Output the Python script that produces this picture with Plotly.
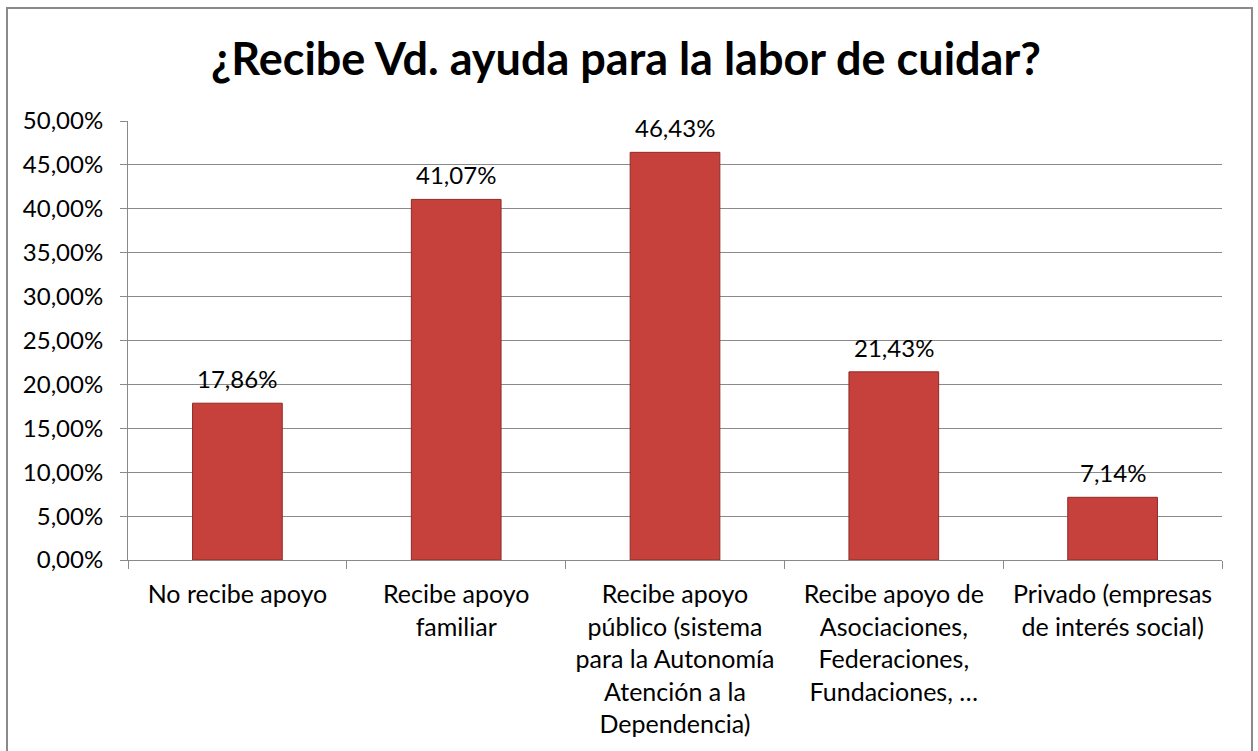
import plotly.graph_objects as go

# Survey answers: help received for caregiving
categories = [
    "No recibe apoyo",
    "Recibe apoyo<br>familiar",
    "Recibe apoyo<br>público (sistema<br>para la Autonomía<br>Atención a la<br>Dependencia)",
    "Recibe apoyo de<br>Asociaciones,<br>Federaciones,<br>Fundaciones, …",
    "Privado (empresas<br>de interés social)",
]
shares = [0.1786, 0.4107, 0.4643, 0.2143, 0.0714]
y_ticks = [0.0, 0.05, 0.10, 0.15, 0.20, 0.25, 0.30, 0.35, 0.40, 0.45, 0.50]

FONT = "Lato"
GRID = "#8a8a8a"

fig = go.Figure()
fig.add_trace(go.Bar(
    x=categories,
    y=shares,
    marker=dict(color="#c6403c", line=dict(color="#8e2a27", width=1)),
    width=0.41,
    hoverinfo="skip",
))

# value labels above each bar
for cat, val in zip(categories, shares):
    fig.add_annotation(
        x=cat, y=val, xref="x", yref="y",
        text=f"{val*100:.2f}%".replace(".", ","),
        showarrow=False, yanchor="bottom", yshift=8,
        font=dict(family=FONT, size=24, color="#000000"),
    )

# outer chart frame
fig.add_shape(
    type="rect", xref="paper", yref="paper",
    x0=(7 - 128) / 1094, x1=(1252 - 128) / 1094,
    y0=-(770 - 560) / 439, y1=1 + (121 - 8) / 439,
    line=dict(color=GRID, width=2), fillcolor="rgba(0,0,0,0)", layer="below",
)

fig.update_layout(
    width=1258, height=751,
    margin=dict(l=128, r=36, t=121, b=191),
    paper_bgcolor="white", plot_bgcolor="white",
    separators=",.",
    showlegend=False,
    title=dict(
        text="<b>¿Recibe Vd. ayuda para la labor de cuidar?</b>",
        x=626 / 1258, xanchor="center", xref="container",
        y=1 - 59 / 751, yanchor="middle", yref="container",
        font=dict(family=FONT, size=45, color="#000000"),
    ),
    bargap=0.59,
)

fig.update_xaxes(
    type="category",
    tickson="boundaries", ticks="outside", ticklen=8, tickcolor=GRID,
    showline=True, linecolor=GRID, linewidth=1,
    showgrid=False,
    tickfont=dict(family=FONT, size=25, color="#000000"),
    ticklabelstandoff=12,
)
fig.update_yaxes(
    range=[0, 0.5], tickvals=y_ticks, tickformat=".2%",
    ticks="outside", ticklen=7, tickcolor=GRID,
    showline=True, linecolor=GRID, linewidth=1,
    showgrid=True, gridcolor=GRID, gridwidth=1,
    zeroline=False,
    tickfont=dict(family=FONT, size=24, color="#000000"),
    ticklabelstandoff=12,
)

fig.write_html("out.html")
